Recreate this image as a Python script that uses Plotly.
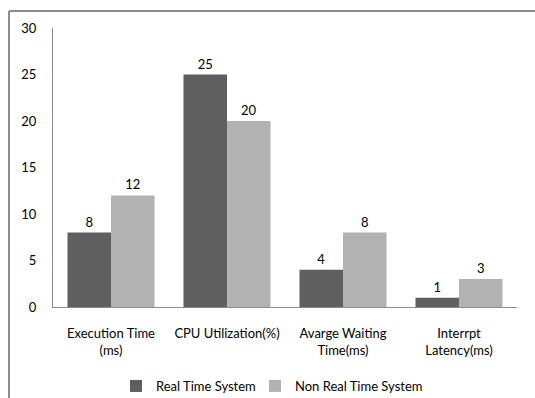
import plotly.graph_objects as go

categories = ["Execution Time<br>(ms)", "CPU Utilization(%)", "Avarge Waiting<br>Time(ms)", "Interrpt<br>Latency(ms)"]
real_time = [8, 25, 4, 1]
non_real_time = [12, 20, 8, 3]
y_ticks = [0, 5, 10, 15, 20, 25, 30]

W, H = 535, 398
L, R, T, B = 53, 517, 28, 307

fig = go.Figure()
fig.add_trace(go.Bar(x=categories, y=real_time, name="Real Time System", legend="legend",
                     marker=dict(color="#5f5f5f", line=dict(width=0)),
                     text=real_time, textposition="outside",
                     textfont=dict(color="#000000", size=13), cliponaxis=False))
fig.add_trace(go.Bar(x=categories, y=non_real_time, name="Non Real Time System", legend="legend2",
                     marker=dict(color="#b2b2b2", line=dict(width=0)),
                     text=non_real_time, textposition="outside",
                     textfont=dict(color="#000000", size=13), cliponaxis=False))

def px_x(p):
    return (p - L) / (R - L)

def px_y(p):
    return (B - p) / (B - T)

leg_common = dict(orientation="h", xanchor="left", yanchor="middle", y=px_y(386),
                  font=dict(size=13), itemwidth=30, bgcolor="rgba(0,0,0,0)")

fig.update_layout(
    width=W, height=H,
    margin=dict(l=L, r=W - R, t=T, b=H - B, autoexpand=False),
    paper_bgcolor="white", plot_bgcolor="white",
    font=dict(family="Lato, Open Sans, sans-serif", size=13, color="#000000"),
    barmode="group", bargap=0.25, bargroupgap=0,
    showlegend=True,
    legend=dict(x=px_x(116), **leg_common),
    legend2=dict(x=px_x(255), **leg_common),
    xaxis=dict(showline=True, linecolor="#8c8c8c", linewidth=1, showgrid=False,
               ticks="", ticklabelstandoff=14, tickfont=dict(size=13), automargin=False),
    yaxis=dict(range=[0, 30], tickvals=y_ticks, showline=True, linecolor="#8c8c8c",
               linewidth=1, showgrid=False, zeroline=False, ticks="",
               ticklabelstandoff=13, tickfont=dict(size=13), automargin=False),
    shapes=[
        dict(type="line", xref="paper", yref="paper", x0=px_x(9), x1=px_x(W), y0=px_y(11), y1=px_y(11),
             line=dict(color="#8c8c8c", width=2)),
        dict(type="line", xref="paper", yref="paper", x0=px_x(9), x1=px_x(9), y0=px_y(11), y1=px_y(H),
             line=dict(color="#8c8c8c", width=2)),
    ],
)

post = ("document.body.style.margin='0';document.body.style.padding='0';"
        "document.body.style.overflow='hidden';document.documentElement.style.overflow='hidden';")
fig.write_html("out.html", post_script=post, config={"displayModeBar": False})
